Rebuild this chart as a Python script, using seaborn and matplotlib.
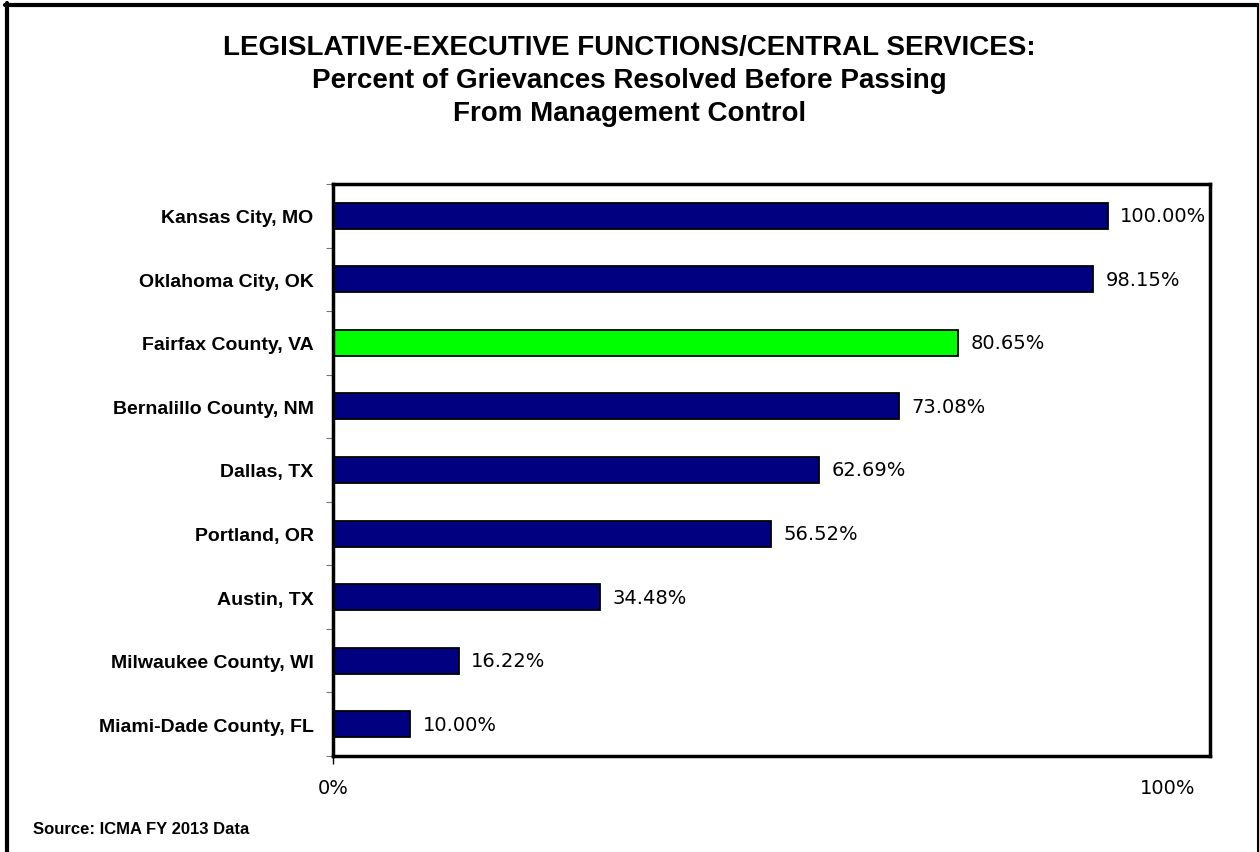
import matplotlib
matplotlib.use("Agg")
import matplotlib.pyplot as plt
from matplotlib.lines import Line2D
import seaborn as sns

cities = ["Kansas City, MO", "Oklahoma City, OK", "Fairfax County, VA",
          "Bernalillo County, NM", "Dallas, TX", "Portland, OR",
          "Austin, TX", "Milwaukee County, WI", "Miami-Dade County, FL"]
values = [100.00, 98.15, 80.65, 73.08, 62.69, 56.52, 34.48, 16.22, 10.00]
highlight = "Fairfax County, VA"
title_lines = ["LEGISLATIVE-EXECUTIVE FUNCTIONS/CENTRAL SERVICES:",
               "Percent of Grievances Resolved Before Passing",
               "From Management Control"]
source_text = "Source: ICMA FY 2013 Data"

sns.set_theme(style="white")
plt.rcParams['font.family'] = ['Liberation Sans', 'DejaVu Sans']
plt.rcParams['text.color'] = 'black'
plt.rcParams['xtick.color'] = 'black'
plt.rcParams['ytick.color'] = 'black'

fig = plt.figure(figsize=(12.59, 8.53), dpi=100)
ax = fig.add_axes([333/1259, 1-757/853, (1210-333)/1259, (757-185)/853])

palette = {c: ("#00FF00" if c == highlight else "#000080") for c in cities}
sns.barplot(x=values, y=cities, hue=cities, palette=palette, legend=False,
            orient="h", width=0.41, edgecolor="black", linewidth=1.3,
            saturation=1, ax=ax)

ax.set_xlim(0, 113.2)
ax.set_ylim(len(cities) - 0.5, -0.5)
for c in ax.containers:
    ax.bar_label(c, labels=[f"{v:.2f}%" for v in c.datavalues], padding=9,
                 fontsize=14, family='DejaVu Sans', color='black')

for s in ax.spines.values():
    s.set_visible(True)
    s.set_color("black")
    s.set_linewidth(2.5)

ax.set_xlabel("")
ax.set_ylabel("")
ax.set_xticks([0])
ax.set_xticklabels(["0%"], fontsize=14, family='DejaVu Sans')
ax.set_xticks([107.7], minor=True)
ax.set_xticklabels(["100%"], minor=True, fontsize=14, family='DejaVu Sans')
ax.tick_params(axis='x', which='major', length=6, width=1, color='black',
               direction='out', bottom=True, pad=10)
ax.tick_params(axis='x', which='minor', length=0, bottom=True, pad=16)
ax.set_yticks(range(len(cities)))
ax.set_yticklabels(cities, fontsize=14, fontweight='bold')
ax.tick_params(axis='y', length=0, pad=14)
ax.set_yticks([i + 0.5 for i in range(-1, len(cities))], minor=True)
ax.tick_params(axis='y', which='minor', length=5, width=0.8, color='#777777', left=True)

for i, line in enumerate(title_lines):
    fig.text(0.5, 1-(48+33*i)/853, line, ha='center', va='center',
             fontsize=20, fontweight='bold', color='black')
fig.text(33/1259, 1-830/853, source_text, ha='left', va='center',
         fontsize=12, fontweight='bold', color='black')

fig.add_artist(Line2D([6.5/1259, 6.5/1259], [0, 1-4/853], color='black', lw=3, transform=fig.transFigure))
fig.add_artist(Line2D([5/1259, 1257.5/1259], [1-5.5/853, 1-5.5/853], color='black', lw=3, transform=fig.transFigure))
fig.add_artist(Line2D([1257.5/1259, 1257.5/1259], [0, 1-5.5/853], color='black', lw=1.5, transform=fig.transFigure))

fig.savefig("out.png", dpi=100)
